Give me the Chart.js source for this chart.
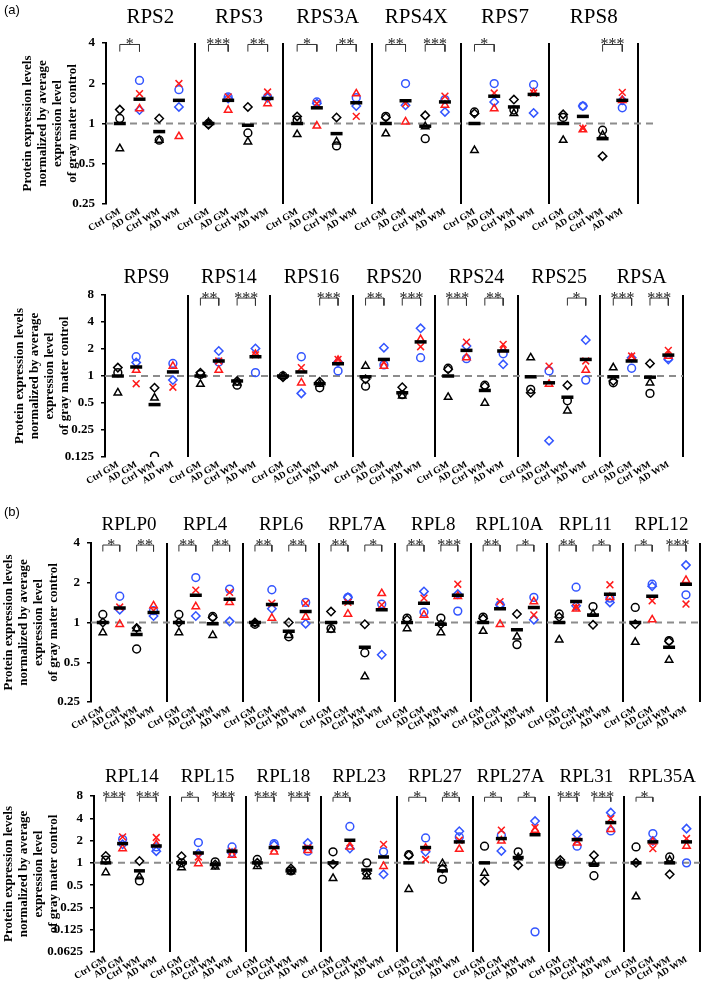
<!DOCTYPE html>
<html>
<head>
<meta charset="utf-8">
<script src="https://cdn.jsdelivr.net/npm/chart.js@4.4.1/dist/chart.umd.min.js"></script>
<style>
  body { margin: 0; background: #fff; }
  #wrap { position: relative; width: 709px; height: 982px; }
  .row { position: absolute; left: 0; }
  .tag { position: absolute; left: 4px; font: 13px "Liberation Sans", Arial, sans-serif; color: #000; }
</style>
</head>
<body>
<div id="wrap">
  <canvas id="rowS1" class="row" width="709" height="236" style="top:0"></canvas>
  <canvas id="rowS2" class="row" width="709" height="266" style="top:236px"></canvas>
  <canvas id="rowL1" class="row" width="709" height="240" style="top:502px"></canvas>
  <canvas id="rowL2" class="row" width="709" height="240" style="top:742px"></canvas>
  <div class="tag" style="top:2px">(a)</div>
  <div class="tag" style="top:504px">(b)</div>
</div>
<script>
// groups on every panel
const groupLabels = ['Ctrl GM', 'AD GM', 'Ctrl WM', 'AD WM'];
const yTitle = ['Protein expression levels', 'normalized by average', 'expression level', 'of gray mater control'];

// ---- (a) row 1 ----
const s1Genes = ['RPS2', 'RPS3', 'RPS3A', 'RPS4X', 'RPS7', 'RPS8'];
const s1CtrlCircle   = [[1.09, 0.75], [1.0, 0.85], [1.06, 0.68], [1.13, 0.77], [1.22, 1.26], [1.11, 0.89]];
const s1CtrlDiamond  = [[1.27, 1.09], [0.98, 1.33], [1.13, 1.11], [1.11, 1.15], [1.19, 1.51], [1.17, 0.57]];
const s1CtrlTriangle = [[0.65, 0.75], [1.02, 0.73], [0.83, 0.73], [0.84, 0.95], [0.63, 1.19], [0.75, 0.82]];
const s1AdCircle     = [[2.1, 1.79], [1.58, 1.58], [1.45, 1.56], [1.99, 1.51], [1.99, 1.95], [1.35, 1.31]];
const s1AdDiamond    = [[1.26, 1.33], [1.54, 1.56], [1.41, 1.35], [1.37, 1.22], [1.45, 1.2], [1.35, 1.49]];
const s1AdTriangle   = [[1.29, 0.8], [1.26, 1.41], [0.96, 1.67], [1.03, 1.37], [1.29, 1.69], [0.9, 1.49]];
const s1AdCross      = [[1.67, 1.99], [1.58, 1.72], [1.41, 1.13], [1.41, 1.6], [1.69, 1.69], [0.92, 1.71]];
const s1Mean = [[1.0, 1.52, 0.87, 1.49], [1.0, 1.49, 0.97, 1.54], [1.0, 1.31, 0.84, 1.43],
                [1.0, 1.48, 0.955, 1.45], [1.0, 1.6, 1.33, 1.65], [1.0, 1.13, 0.77, 1.49]];
const s1Sig = [['*', ''], ['***', '**'], ['*', '**'], ['**', '***'], ['*', ''], ['', '***']];

// ---- (a) row 2 ----
const s2Genes = ['RPS9', 'RPS14', 'RPS16', 'RPS20', 'RPS24', 'RPS25', 'RPSA'];
const s2CtrlCircle   = [[1.09, 0.128], [1.04, 0.79], [1.0, 0.74], [0.77, 0.62], [1.22, 0.79], [0.71, 0.53], [0.84, 0.64]];
const s2CtrlDiamond  = [[1.24, 0.74], [1.09, 0.88], [0.97, 0.86], [0.92, 0.75], [1.19, 0.77], [0.65, 0.79], [0.88, 1.38]];
const s2CtrlTriangle = [[0.65, 0.57], [0.81, 0.84], [1.0, 0.81], [1.29, 0.6], [0.58, 0.5], [1.6, 0.41], [1.24, 0.84]];
const s2AdCircle     = [[1.64, 1.38], [1.43, 1.09], [1.64, 1.14], [1.33, 1.6], [1.56, 1.77], [1.14, 0.9], [1.22, 1.6]];
const s2AdDiamond    = [[1.41, 0.9], [1.9, 2.03], [0.64, 1.43], [2.07, 3.4], [2.16, 1.35], [0.19, 2.52], [1.6, 1.53]];
const s2AdTriangle   = [[1.16, 1.29], [1.16, 1.74], [0.84, 1.5], [1.29, 2.56], [1.6, 1.98], [0.81, 1.16], [1.6, 1.67]];
const s2AdCross      = [[0.82, 0.75], [1.47, 1.72], [1.24, 1.53], [1.43, 2.12], [2.39, 2.25], [1.29, 1.47], [1.67, 1.93]];
const s2Mean = [[1.0, 1.26, 0.48, 1.11], [1.0, 1.47, 0.88, 1.64], [1.0, 1.11, 0.82, 1.37], [0.98, 1.53, 0.65, 2.4],
                [1.0, 1.93, 0.69, 1.9], [0.98, 0.84, 0.58, 1.53], [0.98, 1.47, 0.97, 1.71]];
const s2Sig = [['', ''], ['**', '***'], ['', '***'], ['**', '***'], ['***', '**'], ['', '*'], ['***', '***']];

// ---- (b) row 1 ----
const l1Genes = ['RPLP0', 'RPL4', 'RPL6', 'RPL7A', 'RPL8', 'RPL10A', 'RPL11', 'RPL12'];
const l1CtrlCircle   = [[1.15, 0.63], [1.15, 1.11], [0.97, 0.78], [0.9, 0.59], [1.08, 1.08], [1.1, 0.68], [1.16, 1.32], [1.3, 0.73]];
const l1CtrlDiamond  = [[1.0, 0.91], [1.0, 1.09], [1.0, 1.0], [1.21, 0.97], [1.05, 0.97], [1.07, 1.16], [1.1, 0.96], [0.97, 0.72]];
const l1CtrlTriangle = [[0.84, 0.9], [0.84, 0.8], [0.98, 0.8], [0.88, 0.39], [0.9, 0.84], [0.86, 0.78], [0.74, 1.16], [0.71, 0.52]];
const l1AdCircle     = [[1.58, 1.23], [2.19, 1.79], [1.77, 1.42], [1.55, 1.38], [1.2, 1.22], [1.36, 1.55], [1.85, 1.53], [1.95, 1.62]];
const l1AdDiamond    = [[1.25, 1.12], [1.12, 1.02], [1.27, 0.98], [1.55, 0.57], [1.72, 1.64], [1.36, 1.05], [1.34, 1.42], [1.88, 2.72]];
const l1AdTriangle   = [[0.97, 1.34], [1.32, 1.42], [1.08, 1.1], [1.16, 1.66], [1.14, 1.58], [0.97, 1.44], [1.27, 1.55], [1.05, 2.09]];
const l1AdCross      = [[1.31, 1.23], [1.76, 1.69], [1.4, 1.4], [1.42, 1.36], [1.53, 1.95], [1.44, 1.14], [1.3, 1.93], [1.46, 1.38]];
const l1Mean = [[1.0, 1.29, 0.81, 1.19], [1.0, 1.61, 0.98, 1.5], [1.0, 1.37, 0.86, 1.21], [1.0, 1.41, 0.65, 1.25],
                [1.0, 1.4, 0.97, 1.61], [1.0, 1.27, 0.88, 1.3], [1.0, 1.44, 1.14, 1.64], [1.0, 1.58, 0.65, 1.95]];
const l1Sig = [['*', '**'], ['**', '**'], ['**', '**'], ['**', '*'], ['**', '***'], ['**', '*'], ['**', '*'], ['*', '***']];

// ---- (b) row 2 ----
const l2Genes = ['RPL14', 'RPL15', 'RPL18', 'RPL23', 'RPL27', 'RPL27A', 'RPL31', 'RPL35A'];
const l2CtrlCircle   = [[1.09, 0.57], [1.0, 1.03], [1.11, 0.78], [1.41, 1.0], [1.29, 0.6], [1.68, 1.41], [0.96, 0.67], [1.64, 1.2]];
const l2CtrlDiamond  = [[1.24, 1.06], [1.23, 0.95], [1.0, 0.84], [0.96, 0.72], [1.27, 0.84], [0.57, 0.93], [1.09, 1.27], [1.0, 0.7]];
const l2CtrlTriangle = [[0.74, 0.65], [0.86, 0.88], [0.9, 0.76], [0.62, 0.65], [0.44, 0.98], [0.73, 1.18], [1.0, 0.96], [0.35, 1.09]];
const l2AdCircle     = [[2.08, 1.64], [1.88, 1.64], [1.82, 1.44], [3.1, 1.41], [2.17, 2.24], [2.36, 0.117], [1.68, 2.7], [2.49, 1.0]];
const l2AdDiamond    = [[1.78, 1.44], [1.34, 1.36], [1.75, 1.86], [1.56, 0.7], [1.41, 2.67], [1.45, 3.67], [2.41, 4.77], [1.98, 2.9]];
const l2AdTriangle   = [[1.56, 1.78], [0.98, 1.27], [1.41, 1.48], [1.64, 0.9], [1.59, 1.53], [1.98, 2.76], [1.86, 2.84], [1.92, 1.68]];
const l2AdCross      = [[2.24, 2.2], [1.2, 1.44], [1.56, 1.59], [1.86, 1.78], [1.11, 2.02], [2.76, 2.99], [1.98, 3.96], [1.56, 2.13]];
const l2Mean = [[1.0, 1.82, 0.78, 1.69], [1.0, 1.36, 0.95, 1.44], [1.0, 1.61, 0.78, 1.61], [1.0, 2.02, 0.8, 1.2],
                [1.0, 1.61, 0.78, 1.92], [1.0, 2.13, 1.18, 2.4], [1.0, 2.06, 0.96, 3.5], [1.0, 1.92, 1.0, 1.92]];
const l2Sig = [['***', '***'], ['*', '***'], ['***', '***'], ['**', ''], ['*', '**'], ['*', '*'], ['***', '***'], ['*', '']];

// axis ticks
const ticks4 = [0.25, 0.5, 1, 2, 4];
const ticks8 = [0.125, 0.25, 0.5, 1, 2, 4, 8];
const ticks8b = [0.0625, 0.125, 0.25, 0.5, 1, 2, 4, 8];

// layout: each panel is PANEL wide on the x scale, groups start at OFF
const PANEL = 4.5, OFF = 0.7;
const BLUE = '#3355ff', RED = '#ff1a1a';
const SERIF = '"Liberation Serif", "Times New Roman", serif';

const xOf = (p, g) => p * PANEL + OFF + g;

function pairPts(arr, groups) {
  const out = [];
  arr.forEach((pair, p) => pair.forEach((v, i) => out.push({ x: xOf(p, groups[i]), y: v })));
  return out;
}

function meanPts(arr) {
  const out = [];
  arr.forEach((vals, p) => vals.forEach((v, g) => out.push({ x: xOf(p, g), y: v })));
  return out;
}

function bracketPts(sig, top, leg) {
  const out = [];
  sig.forEach((pair, p) => pair.forEach((s, i) => {
    if (!s) return;
    const a = xOf(p, i * 2), b = xOf(p, i * 2 + 1);
    out.push({ x: a, y: leg }, { x: a, y: top }, { x: b, y: top }, { x: b, y: leg }, { x: b, y: null });
  }));
  return out;
}

const marker = (data, style, color, r) => ({
  data, pointStyle: style, borderColor: color, backgroundColor: 'rgba(0,0,0,0)',
  pointRadius: r, pointHoverRadius: r, borderWidth: 1.5, pointBorderWidth: 1.5
});

// panel titles + asterisks
const decor = {
  id: 'decor',
  afterDraw(chart, args, o) {
    const { ctx, chartArea, scales: { x, y } } = chart;
    ctx.save();
    ctx.fillStyle = '#000';
    ctx.textAlign = 'center';
    ctx.font = `${o.titleSize}px ${SERIF}`;
    o.genes.forEach((g, p) => ctx.fillText(g, x.getPixelForValue(p * PANEL + PANEL / 2), chartArea.top - o.titleGap));
    ctx.font = `16px ${SERIF}`;
    ctx.fillStyle = '#222';
    const yb = y.getPixelForValue(o.bracketTop);
    o.sig.forEach((pair, p) => pair.forEach((s, i) => {
      if (!s) return;
      ctx.fillText(s, x.getPixelForValue(xOf(p, i * 2 + 0.5)), yb + 5);
    }));
    ctx.restore();
  }
};

function makeRow(id, d) {
  const n = d.genes.length;
  const xMax = n * PANEL + (d.extra || 0);
  const xTicks = [];
  for (let p = 0; p < n; p++) {
    for (let g = 0; g < 4; g++) xTicks.push(xOf(p, g));
    xTicks.push((p + 1) * PANEL);
  }
  const slot = v => Math.round(v * 10) % 45;   // 0 = panel border, 7/17/27/37 = groups

  new Chart(document.getElementById(id), {
    type: 'scatter',
    data: {
      datasets: [
        { data: meanPts(d.mean), pointStyle: 'line', borderColor: '#000', pointRadius: d.barR,
          pointHoverRadius: d.barR, borderWidth: 3.5, pointBorderWidth: 3.5 },
        marker(pairPts(d.adCross, [1, 3]), 'crossRot', RED, 4.8),
        marker(pairPts(d.adTriangle, [1, 3]), 'triangle', RED, 4.3),
        marker(pairPts(d.adDiamond, [1, 3]), 'rectRot', BLUE, 4.2),
        marker(pairPts(d.adCircle, [1, 3]), 'circle', BLUE, 3.9),
        marker(pairPts(d.ctrlTriangle, [0, 2]), 'triangle', '#000', 4.3),
        marker(pairPts(d.ctrlDiamond, [0, 2]), 'rectRot', '#000', 4.2),
        marker(pairPts(d.ctrlCircle, [0, 2]), 'circle', '#000', 3.9),
        { data: bracketPts(d.sig, d.bracketTop, d.bracketLeg), showLine: true, spanGaps: false,
          borderColor: '#333', borderWidth: 1, pointRadius: 0 },
        { data: [{ x: 0, y: 1 }, { x: xMax, y: 1 }], showLine: true, borderColor: '#8c8c8c',
          borderWidth: 2, borderDash: [7, 5], pointRadius: 0 }
      ]
    },
    options: {
      responsive: false,
      animation: false,
      events: [],
      layout: { padding: { top: d.padTop, right: d.padRight, bottom: 0, left: 0 } },
      plugins: {
        legend: { display: false },
        tooltip: { enabled: false },
        decor: { genes: d.genes, sig: d.sig, bracketTop: d.bracketTop, titleSize: d.titleSize, titleGap: d.titleGap }
      },
      scales: {
        x: {
          type: 'linear', min: 0, max: xMax,
          afterBuildTicks: s => { s.ticks = xTicks.map(v => ({ value: v })); },
          afterFit: s => { s.height = d.xHeight; s.paddingLeft = 0; s.paddingRight = 0; },
          grid: {
            color: c => (c.tick && slot(c.tick.value) === 0) ? '#000' : 'rgba(0,0,0,0)',
            lineWidth: 2, drawTicks: false
          },
          border: { display: false },
          ticks: {
            autoSkip: false, maxRotation: 31, minRotation: 31, padding: 2, color: '#000',
            font: { family: SERIF, weight: 'bold', size: 9.5 },
            callback: v => { const k = slot(v); return k === 0 ? '' : groupLabels[(k - 7) / 10]; }
          }
        },
        y: {
          type: 'logarithmic', min: d.yTicks[0], max: d.yTicks[d.yTicks.length - 1],
          afterBuildTicks: s => { s.ticks = d.yTicks.map(v => ({ value: v })); },
          afterFit: s => { s.width = d.yWidth; },
          grid: { drawOnChartArea: false, drawTicks: true, tickLength: 4, color: '#000', lineWidth: 1.5 },
          border: { display: true, color: '#000', width: 2 },
          ticks: { padding: 7, color: '#000', font: { family: SERIF, weight: 'bold', size: 13 }, callback: v => String(v) },
          title: {
            display: true, text: yTitle, color: '#000',
            font: { family: SERIF, weight: 'bold', size: 13, lineHeight: 1.15 },
            padding: { top: d.titlePad, bottom: 0 }
          }
        }
      }
    },
    plugins: [decor]
  });
}

makeRow('rowS1', {
  genes: s1Genes, ctrlCircle: s1CtrlCircle, ctrlDiamond: s1CtrlDiamond, ctrlTriangle: s1CtrlTriangle,
  adCircle: s1AdCircle, adDiamond: s1AdDiamond, adTriangle: s1AdTriangle, adCross: s1AdCross,
  mean: s1Mean, sig: s1Sig, yTicks: ticks4, extra: 0.86,
  padTop: 43, padRight: 54, xHeight: 32, yWidth: 106, titlePad: 20,
  titleSize: 21, titleGap: 20, bracketTop: 3.9, bracketLeg: 3.45, barR: 6
});
makeRow('rowS2', {
  genes: s2Genes, ctrlCircle: s2CtrlCircle, ctrlDiamond: s2CtrlDiamond, ctrlTriangle: s2CtrlTriangle,
  adCircle: s2AdCircle, adDiamond: s2AdDiamond, adTriangle: s2AdTriangle, adCross: s2AdCross,
  mean: s2Mean, sig: s2Sig, yTicks: ticks8,
  padTop: 59, padRight: 26, xHeight: 45, yWidth: 105, titlePad: 12,
  titleSize: 20, titleGap: 12, bracketTop: 7.4, bracketLeg: 6.1, barR: 6
});
makeRow('rowL1', {
  genes: l1Genes, ctrlCircle: l1CtrlCircle, ctrlDiamond: l1CtrlDiamond, ctrlTriangle: l1CtrlTriangle,
  adCircle: l1AdCircle, adDiamond: l1AdDiamond, adTriangle: l1AdTriangle, adCross: l1AdCross,
  mean: l1Mean, sig: l1Sig, yTicks: ticks4,
  padTop: 41, padRight: 1, xHeight: 40, yWidth: 91, titlePad: 1,
  titleSize: 19, titleGap: 13, bracketTop: 3.86, bracketLeg: 3.45, barR: 6
});
makeRow('rowL2', {
  genes: l2Genes, ctrlCircle: l2CtrlCircle, ctrlDiamond: l2CtrlDiamond, ctrlTriangle: l2CtrlTriangle,
  adCircle: l2AdCircle, adDiamond: l2AdDiamond, adTriangle: l2AdTriangle, adCross: l2AdCross,
  mean: l2Mean, sig: l2Sig, yTicks: ticks8b,
  padTop: 54, padRight: 5, xHeight: 30, yWidth: 94, titlePad: 1,
  titleSize: 19, titleGap: 14, bracketTop: 7.7, bracketLeg: 6.7, barR: 5.5
});
</script>
</body>
</html>
